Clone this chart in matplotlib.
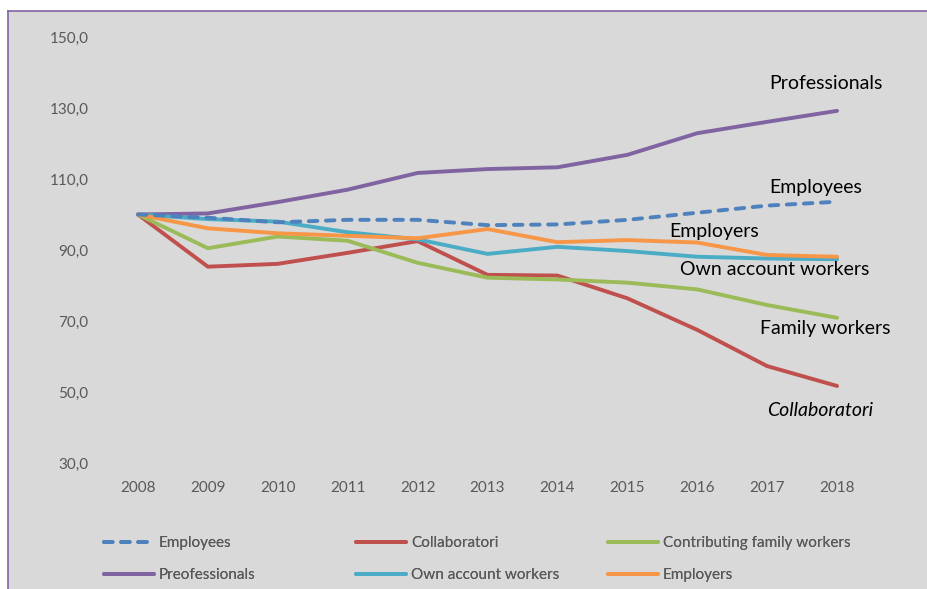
import matplotlib.pyplot as plt
from matplotlib.patches import Rectangle
from matplotlib.lines import Line2D

years = list(range(2008, 2019))

employees = [100, 99.1, 97.8, 98.5, 98.5, 97.0, 97.2, 98.5, 100.5, 102.5, 103.6]
collaboratori = [100, 85.3, 86.1, 89.2, 92.5, 83.0, 82.8, 76.4, 67.5, 57.3, 51.7]
family = [100, 90.5, 93.8, 92.6, 86.4, 82.2, 81.7, 80.8, 78.9, 74.5, 70.9]
professionals = [100, 100.3, 103.5, 107.0, 111.7, 112.8, 113.3, 116.8, 122.9, 126.1, 129.2]
own_account = [100, 98.7, 98.0, 95.0, 93.0, 88.9, 90.9, 89.7, 88.1, 87.6, 87.4]
employers = [100, 96.1, 94.7, 94.0, 93.3, 95.9, 92.2, 92.8, 92.1, 88.6, 88.1]

yticks = [30, 50, 70, 90, 110, 130, 150]

# end-of-line labels: (text, x, y, italic)
labels = [
    ("Professionals", 2017.03, 136.8, False),
    ("Employees", 2017.03, 107.7, False),
    ("Employers", 2015.6, 95.1, False),
    ("Own account workers", 2015.75, 84.4, False),
    ("Family workers", 2016.9, 68.0, False),
    ("Collaboratori", 2017.0, 44.9, True),
]

plt.rcParams['font.family'] = ['Lato', 'DejaVu Sans']

W, H = 928, 589
fig = plt.figure(figsize=(W / 100, H / 100), dpi=100)
fig.patch.set_facecolor('white')

# grey chart panel with purple border on top/left
fig.add_artist(Rectangle((8 / W, 0), 1, 1 - 11 / H, transform=fig.transFigure,
                         facecolor='#d9d9d9', edgecolor='none', zorder=0))
fig.add_artist(Line2D([8 / W, 8 / W], [0, 1 - 11 / H], transform=fig.transFigure,
                      color='#8064A2', lw=1.2))
fig.add_artist(Line2D([8 / W, 1], [1 - 11 / H, 1 - 11 / H], transform=fig.transFigure,
                      color='#8064A2', lw=1.2))

ax = fig.add_axes([103 / W, 1 - 463 / H, (872 - 103) / W, (463 - 37) / H])
ax.set_facecolor('none')
for s in ax.spines.values():
    s.set_visible(False)

lw = 2.8
ax.plot(years, collaboratori, color='#C0504D', lw=lw, solid_capstyle='round')
ax.plot(years, family, color='#9BBB59', lw=lw, solid_capstyle='round')
ax.plot(years, professionals, color='#8064A2', lw=lw, solid_capstyle='round')
ax.plot(years, own_account, color='#4BACC6', lw=lw, solid_capstyle='round')
ax.plot(years, employers, color='#F79646', lw=lw, solid_capstyle='round')
ax.plot(years, employees, color='#4F81BD', lw=lw, ls=(0, (2.2, 2.2)),
        dash_capstyle='round')

ax.set_xlim(2007.5, 2018.5)
ax.set_ylim(30, 150)
ax.set_xticks(years)
ax.set_xticklabels([str(y) for y in years])
ax.set_yticks(yticks)
ax.set_yticklabels([f"{v},0" for v in yticks])
ax.tick_params(length=0, labelsize=11, labelcolor='#595959')
ax.tick_params(axis='y', pad=10.5)
ax.tick_params(axis='x', pad=13)

for txt, x, y, it in labels:
    ax.text(x, y, txt, fontsize=14, color='black', va='center', ha='left',
            style='italic' if it else 'normal')

# legend: three columns built separately
cols = [
    [("Employees", '#4F81BD', (0, (2.2, 2.2))), ("Preofessionals", '#8064A2', '-')],
    [("Collaboratori", '#C0504D', '-'), ("Own account workers", '#4BACC6', '-')],
    [("Contributing family workers", '#9BBB59', '-'), ("Employers", '#F79646', '-')],
]
col_x = [104, 356, 608]
for cx, entries in zip(col_x, cols):
    handles = [Line2D([0], [0], color=c, lw=lw, ls=ls, solid_capstyle='round',
                      dash_capstyle='round') for _, c, ls in entries]
    leg = fig.legend(handles, [e[0] for e in entries], loc='upper left',
                     bbox_to_anchor=(cx / W, 1 - 536 / H), frameon=False,
                     fontsize=11, labelcolor='#595959', handlelength=3.3,
                     handletextpad=0.3, labelspacing=1.17, borderaxespad=0,
                     borderpad=0)
    fig.add_artist(leg)

fig.savefig('out.png', dpi=100)
